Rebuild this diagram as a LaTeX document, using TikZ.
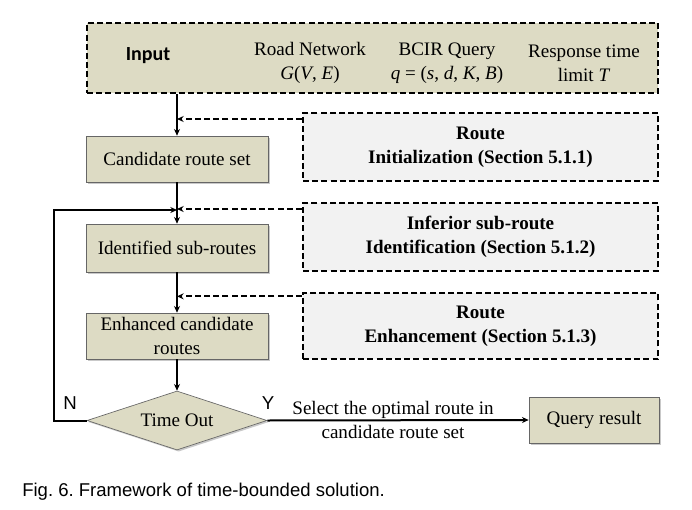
\documentclass[tikz,border=0pt]{standalone}
\usepackage{fontspec}
\setmainfont{Liberation Serif}
\newfontfamily\capfont{Liberation Sans}
\newfontfamily\inputfont{Carlito}
\usetikzlibrary{arrows.meta,shapes.geometric,shadows}
\definecolor{beige}{RGB}{221,219,196}
\definecolor{lgray}{RGB}{242,242,242}
\frenchspacing
\begin{document}
\begin{tikzpicture}[x=0.75pt,y=-0.75pt,
  every node/.style={font=\fontsize{14.3}{18}\selectfont},
  shade/.style={drop shadow={shadow xshift=1.2pt,shadow yshift=-1.2pt,opacity=0.35,fill=black!60}},
  proc/.style={draw=black!60,line width=0.5pt,fill=beige,align=center,inner sep=0pt,
     minimum width=136.5pt,minimum height=34.5pt,shade},
  dashline/.style={line width=1.5pt,dash pattern=on 4.5pt off 2.4pt},
  dbox/.style={draw=black,dashline,fill=lgray,align=center,
     inner sep=0pt,minimum width=266.25pt,minimum height=51pt,font=\fontsize{14.3}{18}\selectfont\bfseries},
  decide/.style={diamond,aspect=3,draw=black!60,line width=0.5pt,fill=beige,inner sep=0pt,
     minimum width=135pt,minimum height=44.25pt,shade},
  arr/.style={line width=1.5pt,-{Stealth[length=5pt,width=4.5pt]}},
  darr/.style={dashline,-{Stealth[length=5pt,width=4.5pt]}},
  lbl/.style={font=\capfont\fontsize{14}{16}\selectfont,inner sep=0pt}
]
\useasboundingbox[fill=white] (0,0) rectangle (692,510);

% Input box
\node[draw=black,dashline,fill=beige,inner sep=0pt,
  minimum width=428.25pt,minimum height=52.5pt] (input) at (372.5,58) {};
\node[font=\inputfont\bfseries\fontsize{15}{18}\selectfont] (intitle) at (148,56) {Input};
\node[align=center] (road) at (310,63) {Road Network\\\textit{G}(\textit{V}, \textit{E})};
\node[align=center] (query) at (447,63) {BCIR Query\\\textit{q} = (\textit{s}, \textit{d}, \textit{K}, \textit{B})};
\node[align=center] (resp) at (584,63) {Response time\\limit \textit{T}};

% process boxes
\node[proc] (cand) at (177,159) {Candidate route set};
\node[proc,minimum height=36pt] (ident) at (177,248) {Identified sub-routes};
\node[proc] (enh) at (177,336) {Enhanced candidate\\routes};
\node[decide] (tout) at (177,420.5) {Time Out};
\node[proc,minimum width=97.5pt] (res) at (594,420) {Query result};

% dashed method boxes
\node[dbox] (init) at (480.5,147) {Route\\Initialization (Section 5.1.1)};
\node[dbox] (inf) at (480.5,237) {Inferior sub-route\\Identification (Section 5.1.2)};
\node[dbox,minimum height=50pt] (enb) at (480.5,326) {Route\\Enhancement (Section 5.1.3)};

% main flow
\draw[arr] (input.south -| cand.north) -- (cand.north);
\draw[arr] (cand.south) -- (ident.north);
\draw[arr] (ident.south) -- (enh.north);
\draw[arr] (enh.south) -- (tout.north);

% dashed inputs
\draw[darr] ([yshift=-5.25pt]init.north west) -- ([yshift=-5.25pt]init.north west -| cand.north);
\draw[darr] ([yshift=-5.25pt]inf.north west) -- ([yshift=-5.25pt]inf.north west -| cand.north);
\draw[darr] ([yshift=-3.5pt]enb.north west) -- ([yshift=-3.5pt]enb.north west -| cand.north);

% loop back
\coordinate (lp) at (54,210);
\draw[arr] (tout.west) -| (lp) -- (lp -| ident.north);

% yes branch
\draw[arr] (tout.east) -- (res.west);
\node[align=center] (sel) at (393,420) {Select the optimal route in\\candidate route set};

\node[lbl] (nlab) at (70,403) {N};
\node[lbl] (ylab) at (268,403) {Y};

% caption
\node[anchor=base west,inner sep=0pt,font=\capfont\fontsize{13.9}{16}\selectfont] (cap) at (22,496)
  {Fig. 6. Framework of time-bounded solution.};
\end{tikzpicture}
\end{document}
